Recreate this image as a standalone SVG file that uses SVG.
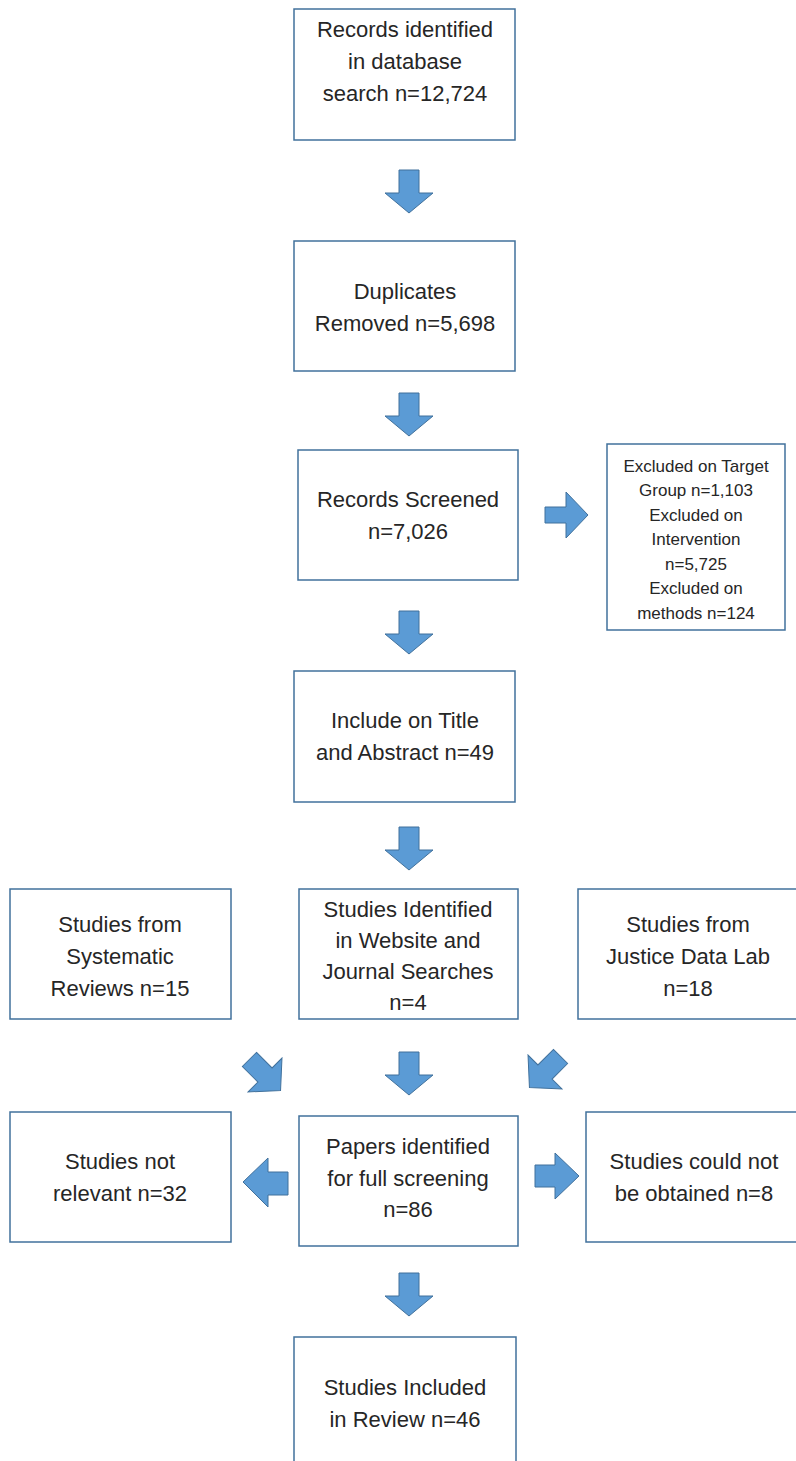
<svg xmlns="http://www.w3.org/2000/svg" width="796" height="1461" viewBox="0 0 796 1461">
<defs>
<style>
.box{fill:#fff;stroke:#41719C;stroke-width:1.5}
.t{font-family:"Liberation Sans",Arial,sans-serif;font-size:22px;fill:#262626;text-anchor:middle}
.s{font-family:"Liberation Sans",Arial,sans-serif;font-size:17px;fill:#262626;text-anchor:middle}
.arr{fill:#5B9BD5;stroke:#41719C;stroke-width:1}
</style>
<path id="down" d="M-10,0 H10 V23 H24 L0,43 L-24,23 H-10 Z"/>
</defs>
<rect width="796" height="1461" fill="#fff"/>
<g id="connectors">
<use href="#down" class="arr" x="409" y="170"/>
<use href="#down" class="arr" x="409" y="393"/>
<use href="#down" class="arr" x="409" y="611"/>
<use href="#down" class="arr" x="409" y="827"/>
<use href="#down" class="arr" x="409" y="1052"/>
<use href="#down" class="arr" x="409" y="1273"/>
<path class="arr" d="M545,507 H566 V492 L588,515 L566,538 V523 H545 Z"/>
<path class="arr" d="M288,1172 H268 V1158 L243,1182 L268,1207 V1195 H288 Z"/>
<path class="arr" d="M535,1165 H555 V1153 L579,1176 L555,1199 V1187 H535 Z"/>
<path class="arr" transform="translate(265,1075) rotate(45)" d="M-22,-10 H0 V-24 L22,0 L0,24 V10 H-22 Z"/>
<path class="arr" transform="translate(545,1072) rotate(135)" d="M-22,-10 H0 V-24 L22,0 L0,24 V10 H-22 Z"/>
</g>
<g id="n1"><rect class="box" x="294" y="9" width="221" height="131"/>
<text class="t" x="405" y="37">Records identified</text><text class="t" x="405" y="69">in database</text><text class="t" x="405" y="101">search n=12,724</text></g>
<g id="n2"><rect class="box" x="294" y="241" width="221" height="130"/>
<text class="t" x="405" y="299">Duplicates</text><text class="t" x="405" y="331">Removed n=5,698</text></g>
<g id="n3"><rect class="box" x="298" y="450" width="220" height="130"/>
<text class="t" x="408" y="507">Records Screened</text><text class="t" x="408" y="539">n=7,026</text></g>
<g id="n3x"><rect class="box" x="607" y="444" width="178" height="186"/>
<text class="s" x="696" y="472">Excluded on Target</text>
<text class="s" x="696" y="496">Group n=1,103</text>
<text class="s" x="696" y="521">Excluded on</text>
<text class="s" x="696" y="545">Intervention</text>
<text class="s" x="696" y="570">n=5,725</text>
<text class="s" x="696" y="594">Excluded on</text>
<text class="s" x="696" y="619">methods n=124</text></g>
<g id="n4"><rect class="box" x="294" y="671" width="221" height="131"/>
<text class="t" x="405" y="728">Include on Title</text><text class="t" x="405" y="760">and Abstract n=49</text></g>
<g id="n5a"><rect class="box" x="10" y="889" width="221" height="130"/>
<text class="t" x="120" y="932">Studies from</text><text class="t" x="120" y="964">Systematic</text><text class="t" x="120" y="996">Reviews n=15</text></g>
<g id="n5b"><rect class="box" x="299" y="889" width="219" height="130"/>
<text class="t" x="408" y="917">Studies Identified</text><text class="t" x="408" y="948">in Website and</text><text class="t" x="408" y="979">Journal Searches</text><text class="t" x="408" y="1010">n=4</text></g>
<g id="n5c"><rect class="box" x="578" y="889" width="224" height="130"/>
<text class="t" x="688" y="932">Studies from</text><text class="t" x="688" y="964">Justice Data Lab</text><text class="t" x="688" y="996">n=18</text></g>
<g id="n6a"><rect class="box" x="10" y="1112" width="221" height="130"/>
<text class="t" x="120" y="1169">Studies not</text><text class="t" x="120" y="1201">relevant n=32</text></g>
<g id="n6b"><rect class="box" x="299" y="1116" width="219" height="130"/>
<text class="t" x="408" y="1154">Papers identified</text><text class="t" x="408" y="1186">for full screening</text><text class="t" x="408" y="1217">n=86</text></g>
<g id="n6c"><rect class="box" x="586" y="1112" width="216" height="130"/>
<text class="t" x="694" y="1169">Studies could not</text><text class="t" x="694" y="1201">be obtained n=8</text></g>
<g id="n7"><rect class="box" x="294" y="1337" width="222" height="130"/>
<text class="t" x="405" y="1395">Studies Included</text><text class="t" x="405" y="1427">in Review n=46</text></g>
</svg>
